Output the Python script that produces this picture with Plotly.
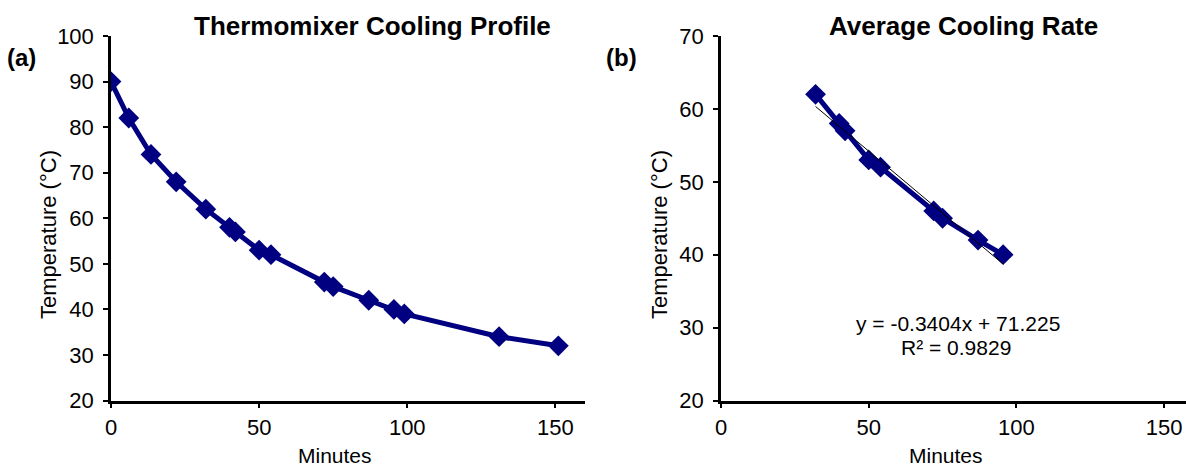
import plotly.graph_objects as go

W, H = 1186, 468

# Panel (a) data: full cooling profile
minutes_a = [0, 6, 13.5, 22, 32, 40, 42, 50, 54, 72, 75, 87, 95.5, 99, 131, 151]
temp_a = [90, 82, 74, 68, 62, 58, 57, 53, 52, 46, 45, 42, 40, 39, 34, 32]

# Panel (b) data: linear region
minutes_b = [32, 40, 42, 50, 54, 72, 75, 87, 95.5]
temp_b = [62, 58, 57, 53, 52, 46, 45, 42, 40]

# Trendline coefficients (as printed on chart)
slope = -0.3404
intercept = 71.225
r2 = 0.9829

x_ticks = [0, 50, 100, 150]
y_ticks_a = [20, 30, 40, 50, 60, 70, 80, 90, 100]
y_ticks_b = [20, 30, 40, 50, 60, 70]

NAVY = "#000080"
FONT = "Liberation Sans, Arial, sans-serif"

def px_x(p):
    return p / W

def px_y(p):
    return 1 - p / H

fig = go.Figure()

fig.add_trace(go.Scatter(
    x=minutes_a, y=temp_a, mode="lines+markers",
    line=dict(color=NAVY, width=5),
    marker=dict(symbol="diamond", size=16, color=NAVY),
    xaxis="x", yaxis="y", showlegend=False,
))

fig.add_trace(go.Scatter(
    x=minutes_b, y=temp_b, mode="lines+markers",
    line=dict(color=NAVY, width=5),
    marker=dict(symbol="diamond", size=16, color=NAVY),
    xaxis="x2", yaxis="y2", showlegend=False,
))

tx = [min(minutes_b), max(minutes_b)]
ty = [slope * v + intercept for v in tx]
fig.add_trace(go.Scatter(
    x=tx, y=ty, mode="lines",
    line=dict(color="black", width=1),
    xaxis="x2", yaxis="y2", showlegend=False,
))

ax_common = dict(
    showline=True, linecolor="black", linewidth=2.5,
    ticks="outside", ticklen=5, tickwidth=1.5, tickcolor="black",
    showgrid=False, zeroline=False, automargin=False,
    tickfont=dict(family=FONT, size=22, color="black"),
)

y_dom = [px_y(400.5), px_y(36)]

fig.update_layout(
    width=W, height=H,
    margin=dict(l=0, r=0, t=0, b=0),
    paper_bgcolor="white", plot_bgcolor="white",
    font=dict(family=FONT, color="black"),
    xaxis=dict(domain=[px_x(111), px_x(585)], range=[0, 160],
               tickvals=x_ticks, anchor="y", **ax_common),
    yaxis=dict(domain=y_dom, range=[20, 100], tickvals=y_ticks_a,
               anchor="x", ticklabelstandoff=5, **ax_common),
    xaxis2=dict(domain=[px_x(721), 1.0], range=[0, 157.4],
                tickvals=x_ticks, anchor="y2", **ax_common),
    yaxis2=dict(domain=y_dom, range=[20, 70], tickvals=y_ticks_b,
                anchor="x2", ticklabelstandoff=5, **ax_common),
)

def ann(text, x, y, size, bold=False, angle=0):
    fig.add_annotation(
        text=f"<b>{text}</b>" if bold else text,
        x=px_x(x), y=px_y(y), xref="paper", yref="paper",
        xanchor="center", yanchor="middle", showarrow=False,
        textangle=angle,
        font=dict(family=FONT, size=size, color="black"),
    )

ann("Thermomixer Cooling Profile", 372, 26, 26, bold=True)
ann("Average Cooling Rate", 963, 26, 26, bold=True)
ann("(a)", 21.5, 57, 24, bold=True)
ann("(b)", 621, 57, 24, bold=True)
ann("Temperature (°C)", 48, 235, 22, angle=-90)
ann("Temperature (°C)", 659, 235, 22, angle=-90)
ann("Minutes", 335, 455, 21)
ann("Minutes", 946, 455, 21)
ann(f"y = {slope}x + {intercept}", 958, 323, 21)
ann(f"R² = {r2}", 956, 347, 21)

fig.write_html("out.html")
